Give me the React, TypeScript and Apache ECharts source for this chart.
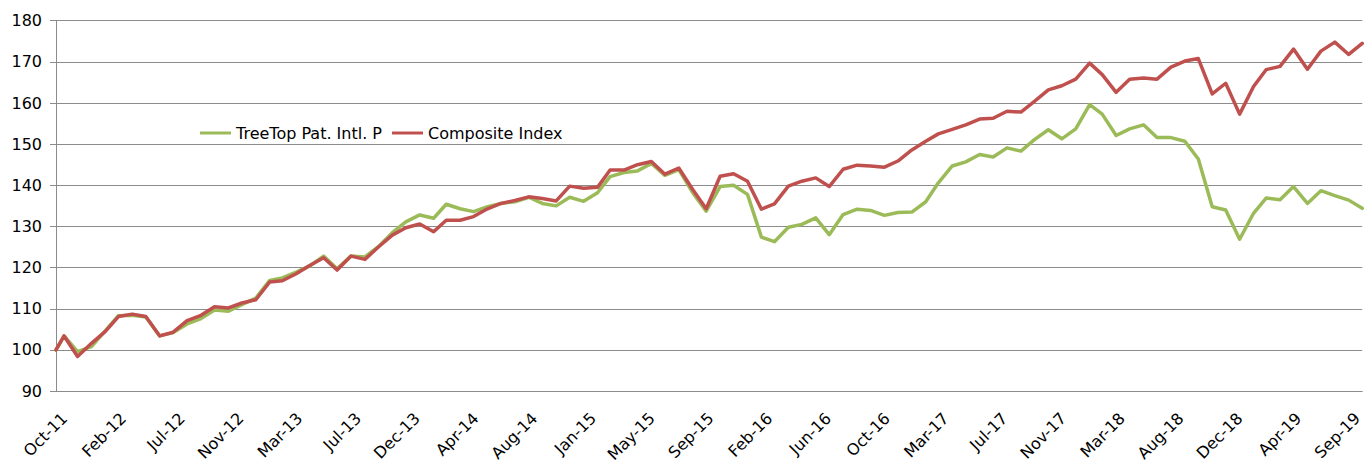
import React, { useEffect, useRef } from "react";
import * as echarts from "echarts";

// ---- data ----
const START_DATE = "2011-10-13"; // first observation (index base 100)
const FIRST_MONTH_END: [number, number] = [2011, 10];
const LAST_MONTH_END: [number, number] = [2019, 9];
const LAST_TICK_DATE = "2019-08-31";

const tickLabels = [
  "Oct-11", "Feb-12", "Jul-12", "Nov-12", "Mar-13", "Jul-13", "Dec-13", "Apr-14",
  "Aug-14", "Jan-15", "May-15", "Sep-15", "Feb-16", "Jun-16", "Oct-16", "Mar-17",
  "Jul-17", "Nov-17", "Mar-18", "Aug-18", "Dec-18", "Apr-19", "Sep-19",
];

const treeTop = [
  100.0, 103.4, 99.6, 100.8, 104.7, 108.3, 108.4, 108.0, 103.4, 104.2,
  106.3, 107.6, 109.7, 109.4, 111.0, 112.6, 116.9, 117.5, 118.9, 120.4,
  122.8, 119.7, 122.8, 122.6, 125.1, 128.5, 131.1, 132.8, 132.0, 135.4,
  134.3, 133.6, 134.8, 135.6, 136.0, 137.1, 135.6, 135.0, 137.1, 136.1,
  138.2, 142.1, 143.1, 143.5, 145.3, 142.4, 143.8, 138.2, 133.7, 139.7,
  140.0, 137.8, 127.4, 126.3, 129.8, 130.5, 132.1, 128.0, 132.9, 134.2,
  133.9, 132.7, 133.4, 133.5, 136.0, 140.6, 144.7, 145.7, 147.5, 146.9,
  149.1, 148.3, 151.1, 153.5, 151.3, 153.7, 159.6, 157.3, 152.1, 153.7,
  154.7, 151.6, 151.6, 150.7, 146.4, 134.8, 134.0, 126.9, 133.2, 136.9,
  136.5, 139.7, 135.6, 138.7, 137.5, 136.4, 134.4,
];

const composite = [
  100.0, 103.4, 98.4, 101.6, 104.5, 108.1, 108.7, 108.1, 103.4, 104.3,
  107.1, 108.4, 110.5, 110.2, 111.4, 112.2, 116.5, 116.8, 118.5, 120.5,
  122.4, 119.4, 122.8, 122.0, 125.0, 127.9, 129.7, 130.6, 128.7, 131.5,
  131.5, 132.4, 134.3, 135.6, 136.3, 137.2, 136.8, 136.2, 139.8, 139.3,
  139.5, 143.7, 143.7, 145.0, 145.8, 142.7, 144.2, 139.0, 134.3, 142.2,
  142.8, 141.0, 134.2, 135.5, 139.8, 141.0, 141.8, 139.7, 143.9, 144.9,
  144.7, 144.4, 145.9, 148.6, 150.7, 152.5, 153.6, 154.7, 156.1, 156.3,
  158.0, 157.8, 160.4, 163.2, 164.2, 165.8, 169.7, 166.9, 162.6, 165.8,
  166.1, 165.8, 168.7, 170.2, 170.8, 162.2, 164.8, 157.3, 164.0, 168.1,
  168.9, 173.1, 168.2, 172.6, 174.8, 171.8, 174.5,
];

// observation dates: inception date, then month-ends
function buildDates(): string[] {
  const out = [START_DATE];
  let [y, m] = FIRST_MONTH_END;
  while (y < LAST_MONTH_END[0] || (y === LAST_MONTH_END[0] && m <= LAST_MONTH_END[1])) {
    out.push(new Date(Date.UTC(y, m, 0)).toISOString().slice(0, 10));
    m += 1;
    if (m > 12) { m = 1; y += 1; }
  }
  return out;
}
const dates = buildDates();

const DAY = 86400000;
const dayOf = (iso: string) => (Date.parse(iso) - Date.parse(START_DATE)) / DAY;

const FONT = "DejaVu Sans";
const GRID_COLOR = "#8c8c8c";

export default function App() {
  const ref = useRef<HTMLDivElement>(null);

  useEffect(() => {
    if (!ref.current) return;
    const chart = echarts.init(ref.current, undefined, { renderer: "svg" });
    const xs = dates.map(dayOf);
    const xMax = xs[xs.length - 1];
    const step = dayOf(LAST_TICK_DATE) / (tickLabels.length - 1);

    chart.setOption({
      animation: false,
      backgroundColor: "#ffffff",
      grid: { left: 56, right: -5.6, top: 20.7, bottom: 64.3, containLabel: false },
      legend: {
        left: 200,
        top: 125,
        padding: 0,
        icon: "rect",
        itemWidth: 31,
        itemHeight: 3,
        itemGap: 10,
        textStyle: { fontFamily: FONT, fontSize: 16, color: "#000" },
        data: ["TreeTop Pat. Intl. P", "Composite Index"],
      },
      xAxis: {
        type: "value",
        min: 0,
        max: xMax,
        interval: step,
        axisLine: { show: true, onZero: false, lineStyle: { color: GRID_COLOR, width: 1 } },
        axisTick: { show: false },
        splitLine: { show: false },
        axisLabel: {
          rotate: 45,
          margin: 16,
          align: "right",
          verticalAlign: "top",
          padding: [4, 0, 0, 0],
          fontFamily: FONT,
          fontSize: 16,
          color: "#000",
          showMaxLabel: true,
          formatter: (v: number) => {
            const i = Math.round(v / step);
            return Math.abs(v - i * step) < 1 && tickLabels[i] ? tickLabels[i] : "";
          },
        },
      },
      yAxis: {
        type: "value",
        min: 90,
        max: 180,
        interval: 10,
        axisLine: { show: true, lineStyle: { color: GRID_COLOR, width: 1 } },
        axisTick: { show: true, length: 6, lineStyle: { color: GRID_COLOR } },
        splitLine: { show: true, lineStyle: { color: GRID_COLOR, width: 1 } },
        axisLabel: { margin: 14, fontFamily: FONT, fontSize: 16, color: "#000" },
      },
      series: [
        {
          name: "TreeTop Pat. Intl. P",
          type: "line",
          data: treeTop.map((v, i) => [xs[i], v]),
          symbol: "none",
          color: "#9BBB59",
          lineStyle: { width: 3.5, color: "#9BBB59", join: "round", cap: "round" },
        },
        {
          name: "Composite Index",
          type: "line",
          data: composite.map((v, i) => [xs[i], v]),
          symbol: "none",
          color: "#C0504D",
          lineStyle: { width: 3.5, color: "#C0504D", join: "round", cap: "round" },
        },
      ],
    });
    return () => chart.dispose();
  }, []);

  return (
    <div
      ref={ref}
      style={{ position: "absolute", left: 0, top: 0, width: 1365, height: 465, background: "#fff" }}
    />
  );
}
